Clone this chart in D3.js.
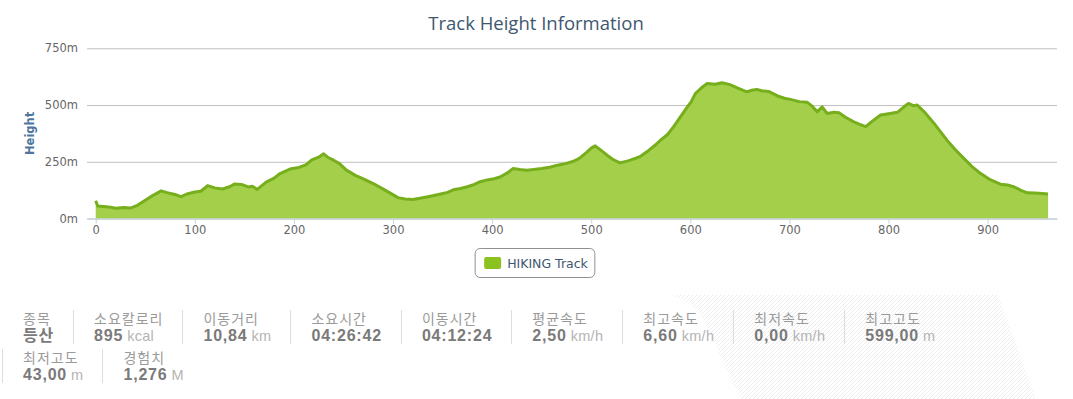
<!DOCTYPE html>
<meta charset="utf-8">
<title>Track Height Information</title>
<script src="https://d3js.org/d3.v7.min.js"></script>
<style>
  body { margin: 0; width: 1073px; height: 399px; overflow: hidden; position: relative; background: #fff; }
  svg { position: absolute; left: 0; top: 0; }
  .stats { position: absolute; left: 2px; top: 310px; width: 1000px; display: flex; flex-wrap: wrap; }
  .stat { box-sizing: border-box; height: 34px; margin-bottom: 5px; padding: 0 19px 0 20px; border-left: 1px solid #ddd; }
  .stat.first { border-left-color: transparent; }
  .stat .lbl { font-family: "Noto Sans CJK KR", sans-serif; font-size: 14px; letter-spacing: 1px; line-height: 16px; color: #9a9a9a; white-space: nowrap; }
  .stat .val { font-family: "Liberation Sans", "Noto Sans CJK KR", sans-serif; font-weight: bold; font-size: 16px; letter-spacing: 0.8px; line-height: 20px; color: #7a7a7a; white-space: nowrap; }
  .stat .unit { font-family: "Liberation Sans", sans-serif; font-weight: normal; font-size: 14.5px; letter-spacing: 0.3px; color: #b4b4b4; margin-left: 4px; }
</style>
<body>
<svg class="hatch" width="1073" height="399"></svg>
<svg class="chart" width="1073" height="300"></svg>
<div class="stats"></div>
<script>

// track profile: distance index and height in m
var distance = [0, 2, 8, 15, 20, 28, 35, 42, 50, 57, 62, 66, 72, 80, 86, 92, 100, 106, 113, 120,
  128, 135, 140, 147, 154, 158, 163, 172, 180, 186, 196, 205, 212, 218, 225, 230, 234, 240, 246, 253,
  262, 270, 280, 292, 305, 312, 320, 327, 334, 340, 347, 355, 362, 368, 375, 382, 388, 395, 402, 408,
  415, 421, 428, 435, 442, 450, 458, 466, 475, 482, 488, 495, 500, 504, 510, 516, 522, 529, 538, 549,
  558, 565, 570, 577, 583, 590, 597, 601, 605, 611, 617, 625, 632, 640, 648, 657, 662, 667, 672, 679,
  688, 695, 701, 710, 718, 723, 728, 733, 738, 745, 750, 757, 765, 771, 777, 784, 792, 800, 809, 815,
  820, 825, 829, 836, 846, 852, 859, 867, 876, 884, 893, 903, 913, 920, 927, 933, 940, 948, 955, 961];
var elevation = [78, 55, 53, 50, 45, 48, 46, 58, 80, 100, 112, 122, 114, 106, 96, 108, 117, 120, 145, 135,
  130, 140, 152, 150, 139, 142, 128, 160, 178, 198, 218, 225, 236, 258, 270, 285, 270, 257, 242, 213,
  190, 175, 154, 125, 92, 86, 84, 89, 95, 100, 107, 115, 128, 132, 140, 150, 162, 170, 175, 183,
  200, 220, 216, 213, 216, 220, 226, 235, 243, 252, 265, 290, 310, 320, 300, 279, 260, 245, 255, 272,
  300, 325, 345, 370, 404, 448, 492, 515, 550, 575, 595, 592, 598, 590, 575, 558, 565, 569, 563, 560,
  540, 530, 525, 515, 512, 495, 470, 492, 463, 468, 466, 445, 426, 415, 405, 430, 456, 462, 468, 490,
  507, 497, 500, 470, 419, 385, 345, 305, 265, 230, 198, 170, 151, 148, 139, 125, 113, 112, 110, 108];

var xTicks = [0, 100, 200, 300, 400, 500, 600, 700, 800, 900];
var yTicks = [0, 250, 500, 750];
var titleText = "Track Height Information";
var yTitle = "Height";
var seriesName = "HIKING Track";

var statLabels = ["종목", "소요칼로리", "이동거리", "소요시간", "이동시간", "평균속도", "최고속도", "최저속도", "최고고도", "최저고도", "경험치"];
var statValues = ["등산", "895", "10,84", "04:26:42", "04:12:24", "2,50", "6,60", "0,00", "599,00", "43,00", "1,276"];
var statUnits = ["", "kcal", "km", "", "", "km/h", "km/h", "km/h", "m", "m", "M"];

var plotLeft = 87, plotRight = 1057, plotTop = 48.3, plotBottom = 218.5;
var lineColor = "#76ae1c", fillColor = "#a3cf4b";

var x = d3.scaleLinear().domain([-8.8, 970]).range([plotLeft, plotRight]);
var y = d3.scaleLinear().domain([0, 750]).range([plotBottom, plotTop]);

var points = distance.map(function(d, i) { return {d: d, e: elevation[i]}; });

// faint striped swoosh behind the stats
var hatch = d3.select(".hatch");
var pat = hatch.append("defs").append("pattern")
  .attr("id", "stripes")
  .attr("patternUnits", "userSpaceOnUse")
  .attr("width", 4).attr("height", 4);
pat.append("path")
  .attr("d", "M-1,1 l2,-2 M0,4 l4,-4 M3,5 l2,-2")
  .attr("stroke", "#ededed").attr("stroke-width", 1);
hatch.append("path")
  .attr("d", "M664,295 C692,295 706,320 716,345 C726,370 736,390 742,399 L1036,399 L998,295 Z")
  .attr("fill", "url(#stripes)");

var svg = d3.select(".chart");

svg.append("text")
  .attr("x", 536).attr("y", 30)
  .attr("text-anchor", "middle")
  .style("font-family", "'Open Sans', sans-serif")
  .style("font-size", "18.5px")
  .style("fill", "#3e576f")
  .text(titleText);

// grid + y labels
var yAxis = svg.append("g")
  .attr("transform", "translate(" + plotLeft + ",0)")
  .call(d3.axisLeft(y).tickValues(yTicks).tickSize(-(plotRight - plotLeft)).tickPadding(9)
    .tickFormat(function(d) { return d + "m"; }));
yAxis.select(".domain").remove();
yAxis.selectAll("line").attr("stroke", "#c0c0c0");
yAxis.selectAll("text")
  .style("font-family", "'DejaVu Sans', sans-serif")
  .style("font-size", "11.5px")
  .style("fill", "#666");

svg.append("text")
  .attr("transform", "translate(34," + ((plotTop + plotBottom) / 2) + ") rotate(-90)")
  .attr("text-anchor", "middle")
  .style("font-family", "'DejaVu Sans', sans-serif")
  .style("font-weight", "bold")
  .style("font-size", "11.5px")
  .style("fill", "#4d759e")
  .text(yTitle);

// area
var area = d3.area()
  .x(function(p) { return x(p.d); })
  .y0(y(0))
  .y1(function(p) { return y(p.e); });
var line = d3.line()
  .x(function(p) { return x(p.d); })
  .y(function(p) { return y(p.e); });

svg.append("path")
  .datum(points)
  .attr("d", area)
  .attr("fill", fillColor);
svg.append("path")
  .datum(points)
  .attr("d", line)
  .attr("fill", "none")
  .attr("stroke", lineColor)
  .attr("stroke-width", 3)
  .attr("stroke-linejoin", "round");

// x axis
var xAxis = svg.append("g")
  .attr("transform", "translate(0," + plotBottom + ")")
  .call(d3.axisBottom(x).tickValues(xTicks).tickSize(5).tickSizeOuter(0).tickPadding(2));
xAxis.select(".domain").attr("stroke", "#c0d0e0");
xAxis.selectAll("line").attr("stroke", "#c0d0e0");
xAxis.selectAll("text")
  .style("font-family", "'DejaVu Sans', sans-serif")
  .style("font-size", "11.5px")
  .style("fill", "#666");

// legend
var legend = svg.append("g");
var box = legend.append("rect")
  .attr("y", 248.5).attr("height", 29).attr("rx", 5)
  .attr("fill", "#fff").attr("stroke", "#909090");
var sym = legend.append("rect")
  .attr("y", 257).attr("width", 17).attr("height", 12).attr("rx", 2)
  .attr("fill", "#8cc21f");
var ltext = legend.append("text")
  .attr("y", 268)
  .style("font-family", "'DejaVu Sans', sans-serif")
  .style("font-size", "12.5px")
  .style("fill", "#3e576f")
  .text(seriesName);
var tw = ltext.node().getComputedTextLength();
var bw = 9 + 17 + 6 + tw + 7;
var bx = 535 - bw / 2;
box.attr("x", bx).attr("width", bw);
sym.attr("x", bx + 9);
ltext.attr("x", bx + 9 + 17 + 6);

// stats
var items = d3.select(".stats").selectAll(".stat")
  .data(statLabels)
  .enter().append("div")
  .attr("class", function(d, i) { return i == 0 ? "stat first" : "stat"; });
items.append("div").attr("class", "lbl").text(function(d) { return d; });
var vals = items.append("div").attr("class", "val")
  .text(function(d, i) { return statValues[i]; });
vals.filter(function(d, i) { return statUnits[i] != ""; })
  .append("span").attr("class", "unit")
  .text(function(d) { return statUnits[statLabels.indexOf(d)]; });

</script>
</body>
